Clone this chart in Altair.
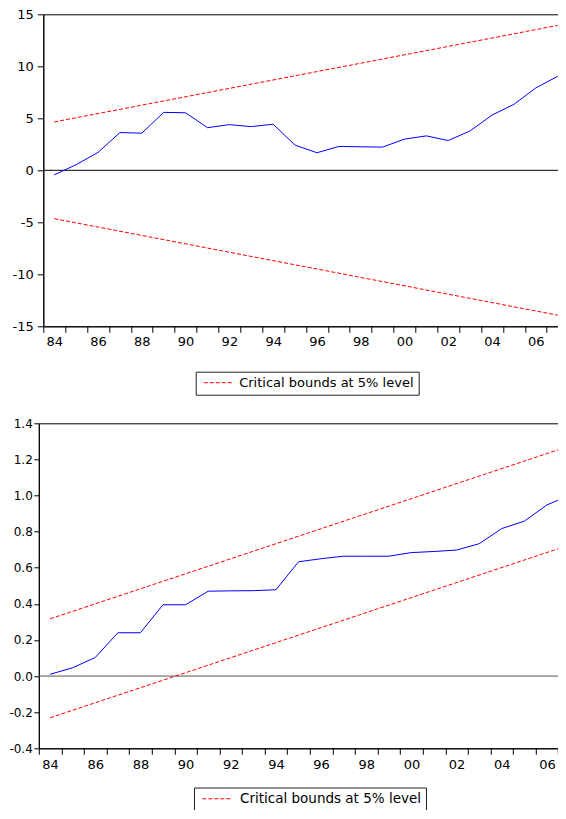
import altair as alt
import pandas as pd

# ---- data ----
years = list(range(1984, 2008))
cusum = [-0.44, 0.54, 1.72, 3.63, 3.57, 5.57, 5.53, 4.10, 4.39, 4.20, 4.43, 2.42,
         1.69, 2.29, 2.26, 2.23, 3.00, 3.31, 2.86, 3.79, 5.31, 6.34, 7.92, 9.04]
bound_years = [1984, 2007]
cusum_upper = [4.65, 13.93]
cusum_lower = [-4.65, -13.93]

cusumsq = [0.01, 0.046, 0.103, 0.24, 0.24, 0.395, 0.395, 0.47, 0.472, 0.473, 0.478, 0.633,
           0.65, 0.664, 0.664, 0.664, 0.684, 0.69, 0.698, 0.733, 0.817, 0.858, 0.948, 1.0]
sq_upper = [0.317, 1.274]
sq_lower = [-0.231, 0.726]

legend_label = "Critical bounds at 5% level"
top_ticks = [-15, -10, -5, 0, 5, 10, 15]
bottom_ticks = [-0.4, -0.2, 0.0, 0.2, 0.4, 0.6, 0.8, 1.0, 1.2, 1.4]

FONT = "DejaVu Sans"


def panel(values, upper, lower, ydom, yticks, ylabel_expr, width, height, xmax,
          half_year, leg_x, leg_y, zero_color, ytick, ypad, yfont, xpad, legfont, lab_off):
    line_df = pd.DataFrame({"year": years, "value": values})
    b_df = pd.DataFrame({
        "year": bound_years * 2,
        "value": upper + lower,
        "bound": ["upper"] * len(upper) + ["lower"] * len(lower),
        "series": [legend_label] * (len(upper) + len(lower)),
    })
    zero_df = pd.DataFrame({"value": [0]})

    xaxis = alt.Axis(values=years, title=None, grid=False, tickSize=6, tickColor="black",
                     domainColor="black", tickWidth=1, domainWidth=1,
                     labelExpr="datum.value % 2 == 0 ? format(datum.value % 100, '02d') : ''",
                     labelOffset=half_year, labelFlush=False, labelOverlap=False,
                     labelFont=FONT, labelFontSize=13, labelColor="black", labelPadding=xpad)
    yaxis = alt.Axis(values=yticks, title=None, grid=False, tickSize=ytick, tickColor="black",
                     domainColor="black", tickWidth=1, domainWidth=1,
                     labelExpr=ylabel_expr, labelFlush=False, labelOverlap=False,
                     labelFont=FONT, labelFontSize=yfont, labelColor="black", labelPadding=ypad)
    xs = alt.Scale(domain=[1984, xmax], nice=False, zero=False)
    ys = alt.Scale(domain=ydom, nice=False, zero=False)

    base_x = alt.X("mid:Q", scale=xs, axis=xaxis)
    base_y = alt.Y("value:Q", scale=ys, axis=yaxis)

    bounds = alt.Chart(b_df).transform_calculate(mid="datum.year + 0.5").mark_line(
        strokeDash=[4, 2], strokeWidth=1
    ).encode(
        x=base_x, y=base_y, detail="bound:N",
        color=alt.Color("series:N",
                        scale=alt.Scale(domain=[legend_label], range=["#FF0000"]),
                        legend=alt.Legend(title=None, orient="none", legendX=leg_x, legendY=leg_y,
                                          symbolType="M-0.6,0H5.4", symbolSize=93.4,
                                          symbolDash=[4, 2], symbolStrokeWidth=1,
                                          symbolStrokeColor="#FF0000",
                                          labelFont=FONT, labelLimit=400,
                                          labelFontSize=legfont, labelColor="black",
                                          strokeColor="#222222", fillColor="white",
                                          padding=4.5, labelOffset=lab_off)),
    )
    line = alt.Chart(line_df).transform_calculate(mid="datum.year + 0.5").mark_line(
        color="#0000FF", strokeWidth=1
    ).encode(x=base_x, y=base_y)
    zero = alt.Chart(zero_df).mark_rule(color=zero_color, strokeWidth=1).encode(y=base_y)
    return alt.layer(zero, bounds, line).properties(width=width, height=height)


top = panel(cusum, cusum_upper, cusum_lower, [-15, 15], top_ticks,
            "(datum.value < 0 ? '-' : '') + abs(datum.value)",
            533, 312, 1984 + 533 / 21.89, 10.95, 152.4, 357.4, "#000000",
            6, 4, 13, 3, 13, 26)
bottom = panel(cusumsq, sq_upper, sq_lower, [-0.4, 1.4], bottom_ticks,
               "(datum.value < 0 ? '-' : '') + format(abs(datum.value), '.1f')",
               542, 325, 2008, 11.29, 155.2, 364.2, "#555555",
               5, 1.5, 12, 4, 13.5, 28)

chart = alt.vconcat(top, bottom, spacing=97, bounds="flush", center=True).resolve_scale(
    color="independent", x="independent", y="independent"
).properties(
    autosize=alt.AutoSizeParams(type="none"),
    padding={"left": 30.8, "top": 6.3, "right": 519.2, "bottom": 795.7},
    background="white",
).configure_view(stroke="black", strokeWidth=1)

chart.save("out.html", embed_options={"renderer": "svg", "actions": False})
